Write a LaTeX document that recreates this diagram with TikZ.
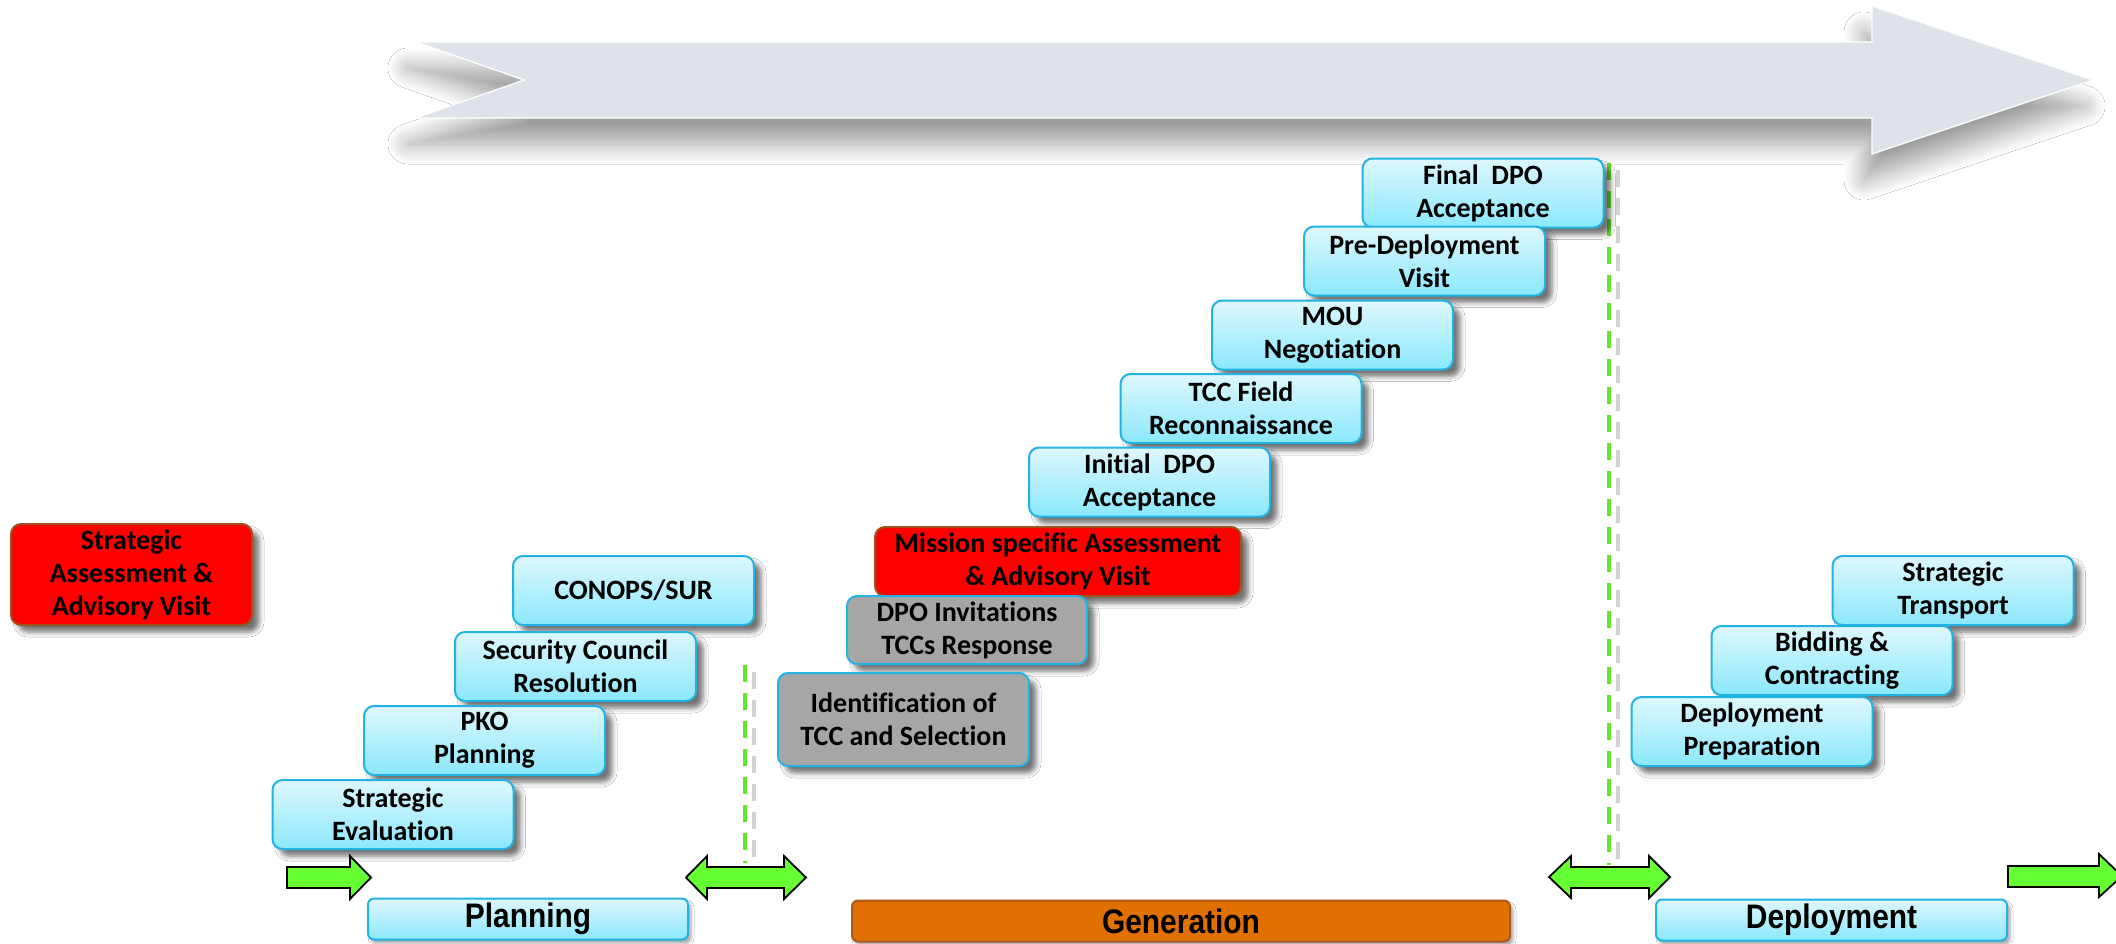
\documentclass[tikz,border=0pt]{standalone}
\usepackage{fontspec}
\setmainfont{Carlito}[RawFeature={-liga;-clig;-calt;-dlig}]
\newfontfamily\phasefont{Liberation Sans}
\usetikzlibrary{shadows.blur}

\definecolor{boxline}{RGB}{35,178,228}
\definecolor{boxtop}{RGB}{222,247,253}
\definecolor{boxbot}{RGB}{138,232,252}
\definecolor{redfill}{RGB}{255,0,0}
\definecolor{redline}{RGB}{160,82,30}
\definecolor{grayfill}{RGB}{166,166,166}
\definecolor{orangefill}{RGB}{224,112,0}
\definecolor{orangeline}{RGB}{170,90,30}
\definecolor{arrowgreen}{RGB}{102,255,51}
\definecolor{dashgreen}{RGB}{100,230,40}
\definecolor{bigfill}{RGB}{222,227,234}

\tikzset{
  boxshadow/.style={blur shadow={shadow xshift=7pt, shadow yshift=-7pt,
      shadow blur radius=5pt, shadow opacity=55}},
  barshadow/.style={blur shadow={shadow xshift=3pt, shadow yshift=-4pt,
      shadow blur radius=3pt, shadow opacity=35}},
  basebox/.style={rectangle, rounded corners=10pt, line width=2pt,
      minimum width=241pt, minimum height=69pt, inner sep=0pt, align=center,
      font=\fontsize{28}{33}\selectfont\bfseries, boxshadow},
  stepbox/.style={basebox, draw=boxline, top color=boxtop, bottom color=boxbot},
  redbox/.style={basebox, draw=redline, fill=redfill},
  graybox/.style={basebox, draw=boxline, fill=grayfill},
  basebar/.style={rectangle, rounded corners=6pt, line width=2pt,
      minimum height=41pt, inner sep=0pt, barshadow,
      font=\phasefont\fontsize{34}{36}\selectfont\bfseries},
  phasebar/.style={basebar, draw=boxline, top color=boxtop, bottom color=boxbot},
  orangebar/.style={basebar, draw=orangeline, fill=orangefill},
  garrow/.style={fill=arrowgreen, draw=black, line width=1.8pt, line join=miter},
  dashline/.style={draw=dashgreen, line width=3.5pt, dash pattern=on 17pt off 11pt},
  dashshade/.style={draw=black!22, line width=4pt, dash pattern=on 17pt off 11pt,
      opacity=0.8},
}

\newcommand{\squeeze}[1]{\scalebox{0.88}[1]{#1}}

\begin{document}
\begin{tikzpicture}[x=1pt, y=-1pt]
\clip (0,0) rectangle (2116,943);
\fill[white] (0,0) rectangle (2116,943);

% timeline arrow across the top
\fill[bigfill, draw=white, line width=1.2pt,
      blur shadow={shadow xshift=-8pt, shadow yshift=-26pt,
      shadow blur radius=20pt, shadow blur steps=24, shadow opacity=38}]
  (416,42) -- (1872,42) -- (1872,6) -- (2093,80) -- (1872,154) -- (1872,118)
  -- (416,118) -- (524,80) -- cycle;

% phase separators
\coordinate (s1top) at (745,665);  \coordinate (s1bot) at (745,863);
\coordinate (s2top) at (1609,163); \coordinate (s2bot) at (1609,865);
\draw[dashshade] ([xshift=9pt,yshift=-7pt]s1top) -- ([xshift=9pt,yshift=-7pt]s1bot);
\draw[dashshade] ([xshift=9pt,yshift=-7pt]s2top) -- ([xshift=9pt,yshift=-7pt]s2bot);
\draw[dashline] (s1top) -- (s1bot);
\draw[dashline] (s2top) -- (s2bot);

% planning
\node[redbox, minimum height=101pt] (saav) at (131.5,574.5)
  {Strategic\\Assessment \&\\Advisory Visit};
\node[stepbox] (conops) at (633.5,590.5) {CONOPS/SUR};
\node[stepbox] (scr) at (575.5,666.5) {Security Council\\Resolution};
\node[stepbox] (pko) at (484.5,740.5) {PKO\\Planning};
\node[stepbox] (seval) at (393,814.5) {Strategic\\Evaluation};

% generation
\node[stepbox] (final) at (1483,193) {Final\ \ DPO\\Acceptance};
\node[stepbox] (pdv) at (1424.5,261) {Pre-Deployment\\Visit};
\node[stepbox] (mou) at (1332.5,335) {MOU\\Negotiation};
\node[stepbox] (tccf) at (1241,408.5) {TCC Field\\Reconnaissance};
\node[stepbox] (idpo) at (1149.5,482) {Initial\ \ DPO\\Acceptance};
\node[redbox, minimum width=366pt] (msav) at (1058,561.5)
  {Mission specific Assessment\\\& Advisory Visit};
\node[graybox, minimum width=240pt, minimum height=68pt] (dpoinv) at (967,630)
  {DPO Invitations\\TCCs Response};
\node[graybox, minimum width=251pt, minimum height=93pt] (ident) at (903.5,719.5)
  {Identification of\\TCC and Selection};

% deployment
\node[stepbox] (strans) at (1953,590.5) {Strategic\\Transport};
\node[stepbox] (bid) at (1832,660.5) {Bidding \&\\Contracting};
\node[stepbox] (dprep) at (1752,731.5) {Deployment\\Preparation};

% phase bars
\node[phasebar, minimum width=320pt] (planning) at (528,919) {\squeeze{Planning}};
\node[orangebar, minimum width=658pt] (generation) at (1181,921) {\squeeze{Generation}};
\node[phasebar, minimum width=351pt] (deployment) at (1831.5,920) {\squeeze{Deployment}};

% transition arrows
\draw[garrow] (287,867) -- (350,867) -- (350,856) -- (371,877.5) -- (350,899)
  -- (350,888) -- (287,888) -- cycle;
\draw[garrow] (686,877.5) -- (707,856) -- (707,867) -- (784,867) -- (784,856)
  -- (806,877.5) -- (784,899) -- (784,888) -- (707,888) -- (707,899) -- cycle;
\draw[garrow] (1549,877) -- (1571,856) -- (1571,867) -- (1649,867) -- (1649,856)
  -- (1670,877) -- (1649,898) -- (1649,888) -- (1571,888) -- (1571,898) -- cycle;
\draw[garrow] (2008,866) -- (2099,866) -- (2099,854) -- (2122,876) -- (2099,897)
  -- (2099,887) -- (2008,887) -- cycle;
\end{tikzpicture}
\end{document}
